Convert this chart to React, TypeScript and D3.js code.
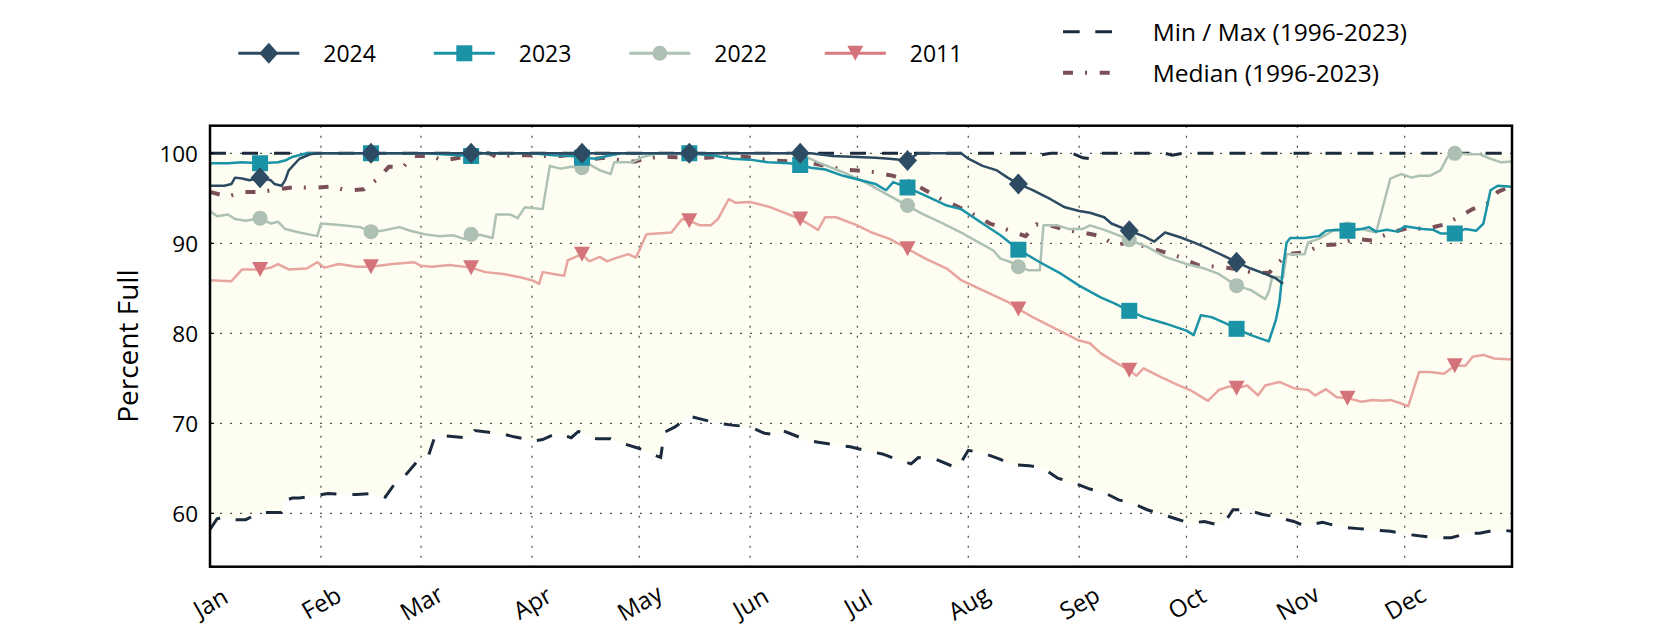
import React from 'react';
import * as d3 from 'd3';

type Pt = [number, number];

// day of year (0 = Jan 1), percent full
const monthLabels = ['Jan', 'Feb', 'Mar', 'Apr', 'May', 'Jun', 'Jul', 'Aug', 'Sep', 'Oct', 'Nov', 'Dec'];
const yTicks = [60, 70, 80, 90, 100];
const markerDays = [14, 45, 73, 104, 134, 165, 195, 226, 257, 287, 318, 348];

const maxSeries: Pt[] = [
  [0, 100], [228, 100], [232, 99.8], [235, 100], [241, 100], [244, 99.5], [246, 99.4], [247, 100],
  [267, 100], [269, 99.8], [272, 100], [364, 100],
];

const minSeries: Pt[] = [
  [0, 58.2], [2, 59.4], [4, 59.6], [7, 59.3], [10, 59.3], [14, 60.1], [18, 60.1], [20, 60.1], [21, 61.4],
  [23, 61.7], [25, 61.7], [30, 62.0], [33, 62.2], [37, 62.1], [41, 62.1], [46, 62.2], [49, 61.8], [52, 63.5],
  [55, 64.4], [58, 65.8], [61, 66.3], [63, 68.7], [66, 68.6], [71, 68.4], [73, 68.4], [74, 69.2], [78, 69.0],
  [81, 68.9], [85, 68.5], [89, 68.2], [90, 68.0], [93, 68.2], [97, 68.9], [101, 68.4], [103, 69.1], [108, 68.3],
  [112, 68.3], [116, 67.7], [120, 67.2], [124, 66.5], [126, 66.2], [127, 69.0], [130, 69.6], [134, 70.8],
  [137, 70.5], [142, 70.0], [146, 69.8], [151, 69.6], [155, 68.9], [159, 68.7], [160, 69.2], [162, 68.9],
  [167, 68.1], [170, 67.9], [175, 67.6], [179, 67.4], [184, 66.9], [188, 66.6], [192, 66.0], [196, 65.5],
  [198, 66.2], [203, 66.0], [209, 65.0], [212, 67.0], [216, 66.7], [221, 66.0], [224, 65.4], [229, 65.3],
  [233, 65.0], [237, 63.9], [242, 63.3], [246, 62.7], [250, 62.3], [254, 61.5], [258, 61.1], [262, 60.4],
  [266, 59.9], [270, 59.4], [274, 58.9], [278, 59.1], [282, 58.7], [284, 59.2], [286, 60.4], [290, 60.4],
  [294, 59.9], [298, 59.6], [303, 59.1], [306, 58.6], [311, 59.0], [313, 58.8], [318, 58.4], [321, 58.3],
  [327, 58.1], [330, 58.0], [334, 57.7], [338, 57.5], [343, 57.3], [347, 57.3], [352, 57.8], [355, 57.8],
  [360, 58.2], [364, 58.0],
];

const medianSeries: Pt[] = [
  [0, 95.7], [5, 95.2], [9, 95.7], [14, 95.7], [19, 96.0], [23, 96.2], [30, 96.2], [34, 96.3], [38, 95.9],
  [40, 95.9], [43, 96.0], [47, 97.2], [50, 98.5], [54, 98.5], [57, 99.7], [62, 99.7], [65, 99.2], [71, 99.6],
  [73, 99.6], [75, 100], [78, 100], [80, 99.6], [85, 99.8], [90, 99.8], [94, 99.7], [98, 99.7], [100, 99.8],
  [108, 99.4], [110, 99.5], [117, 99.1], [119, 99.1], [122, 99.5], [128, 99.6], [135, 99.5], [139, 99.5],
  [143, 99.7], [147, 99.6], [150, 99.6], [153, 99.4], [158, 99.2], [167, 99.0], [177, 98.2], [181, 98.1],
  [186, 97.9], [191, 97.5], [196, 96.8], [200, 95.9], [204, 95.0], [210, 93.9], [214, 93.1], [218, 92.2],
  [223, 91.5], [228, 90.8], [231, 92.1], [234, 92.1], [239, 91.5], [244, 91.2], [249, 90.8], [253, 89.8],
  [257, 90.1], [262, 89.6], [267, 89.0], [271, 88.5], [276, 87.6], [281, 87.4], [286, 87.2], [291, 86.8],
  [296, 86.7], [301, 88.8], [306, 89.0], [311, 89.8], [316, 89.9], [320, 90.5], [325, 90.3], [330, 91.2],
  [335, 91.7], [340, 91.6], [345, 92.1], [349, 92.9], [353, 93.8], [357, 94.4], [360, 95.7], [364, 96.4],
];

const series2024: Pt[] = [
  [0, 96.4], [4, 96.4], [6, 96.6], [7, 97.3], [9, 97.2], [11, 97.0], [14, 97.3], [17, 97.0], [18, 96.6],
  [20, 96.4], [21, 97.0], [22, 98.1], [25, 99.4], [28, 99.9], [30, 100], [45, 100], [73, 100], [104, 100],
  [134, 100], [165, 100], [168, 100], [174, 99.7], [181, 99.6], [186, 99.5], [190, 99.4], [195, 99.2],
  [198, 100], [210, 100], [212, 99.4], [216, 98.6], [220, 98.1], [223, 97.3], [226, 96.6], [230, 95.9],
  [235, 94.9], [239, 94.0], [243, 93.6], [246, 93.4], [250, 92.9], [252, 92.2], [257, 91.4], [261, 90.8],
  [264, 90.2], [267, 91.2], [271, 90.7], [275, 90.1], [278, 89.6], [283, 88.7], [287, 87.9], [291, 87.2],
  [295, 86.6], [298, 86.1], [300, 85.5],
];

const series2023: Pt[] = [
  [0, 98.9], [5, 98.9], [9, 99.0], [14, 98.9], [19, 99.0], [21, 99.2], [23, 99.6], [27, 100], [45, 100],
  [60, 100], [73, 99.7], [76, 100], [90, 100], [96, 99.8], [101, 99.7], [104, 99.5], [108, 99.4], [111, 99.7],
  [115, 100], [134, 100], [140, 99.8], [146, 99.4], [151, 99.3], [156, 99.0], [162, 98.9], [165, 98.7],
  [168, 98.4], [172, 98.2], [177, 97.5], [182, 97.0], [186, 96.6], [189, 95.9], [191, 96.8], [195, 96.2],
  [200, 95.3], [206, 94.2], [210, 93.8], [216, 92.2], [221, 90.9], [226, 89.3], [232, 87.9], [238, 86.6],
  [243, 85.3], [249, 84.0], [253, 83.3], [257, 82.5], [261, 81.8], [267, 81.1], [273, 80.3], [275, 79.8],
  [277, 82.0], [280, 81.8], [284, 81.1], [287, 80.5], [291, 79.8], [296, 79.1], [298, 81.5], [299, 83.5],
  [300, 87.4], [301, 90.1], [302, 90.6], [306, 90.6], [310, 90.8], [312, 91.4], [315, 91.5], [318, 91.4],
  [322, 91.6], [324, 91.8], [326, 91.3], [329, 91.5], [332, 91.3], [334, 91.9], [339, 91.6], [342, 91.5],
  [344, 91.1], [348, 91.1], [351, 91.6], [354, 91.4], [356, 92.2], [358, 95.9], [360, 96.4], [364, 96.3],
];

const series2022: Pt[] = [
  [0, 93.6], [2, 93.0], [5, 93.2], [7, 92.7], [10, 92.5], [14, 92.8], [17, 92.2], [19, 92.4], [21, 91.6],
  [25, 91.2], [30, 90.8], [31, 92.2], [37, 92.0], [42, 91.8], [45, 91.3], [48, 91.4], [53, 91.8], [56, 91.4],
  [60, 91.0], [64, 90.8], [68, 90.9], [71, 90.5], [73, 91.0], [76, 90.9], [79, 90.6], [80, 93.2], [84, 93.2],
  [86, 92.8], [88, 94.0], [93, 93.8], [95, 98.6], [98, 98.3], [101, 98.5], [104, 98.4], [106, 98.8],
  [109, 98.1], [112, 97.7], [113, 99.0], [118, 99.0], [121, 99.6], [125, 100], [134, 99.9], [160, 100],
  [165, 99.9], [170, 99.0], [177, 97.9], [184, 96.6], [189, 95.5], [195, 94.2], [199, 93.3], [205, 92.2],
  [210, 91.2], [214, 90.3], [219, 89.2], [221, 88.3], [224, 87.9], [226, 87.4], [229, 87.0], [232, 87.0],
  [233, 92.0], [237, 92.0], [240, 91.6], [244, 91.6], [246, 92.0], [250, 91.5], [254, 90.9], [257, 90.4],
  [262, 89.6], [267, 88.5], [273, 87.7], [278, 87.2], [282, 86.6], [287, 85.3], [291, 84.8], [295, 83.8],
  [296, 84.6], [297, 86.3], [300, 86.2], [301, 88.8], [306, 88.8], [307, 90.1], [310, 90.5], [314, 91.4],
  [318, 91.6], [322, 91.6], [326, 91.2], [330, 97.2], [333, 97.7], [336, 97.3], [338, 97.5], [341, 97.5],
  [344, 98.1], [346, 99.6], [348, 100], [352, 99.9], [355, 99.9], [358, 99.4], [361, 99.0], [364, 99.1],
];

const series2011: Pt[] = [
  [0, 85.9], [6, 85.8], [9, 87.1], [14, 87.1], [17, 87.3], [19, 87.7], [22, 87.1], [27, 87.2], [30, 87.9],
  [32, 87.3], [36, 87.7], [41, 87.4], [45, 87.4], [51, 87.7], [57, 87.9], [59, 87.5], [62, 87.4], [67, 87.6],
  [73, 87.3], [77, 86.8], [82, 86.6], [87, 86.2], [90, 85.9], [92, 85.5], [93, 86.8], [96, 86.6], [99, 86.4],
  [100, 88.1], [104, 88.8], [106, 88.0], [109, 88.5], [111, 88.0], [113, 88.3], [117, 88.8], [119, 88.4],
  [120, 89.2], [122, 91.0], [125, 91.1], [129, 91.2], [132, 92.7], [134, 92.5], [137, 92.0], [140, 92.0],
  [142, 92.7], [145, 94.9], [147, 94.5], [151, 94.6], [156, 94.1], [160, 93.5], [165, 92.7], [170, 91.5],
  [172, 92.9], [175, 92.9], [181, 92.0], [185, 91.2], [190, 90.5], [195, 89.4], [200, 88.3], [206, 87.2],
  [210, 85.9], [217, 84.6], [223, 83.5], [226, 82.7], [230, 81.8], [238, 80.2], [243, 79.2], [246, 78.9],
  [249, 77.8], [253, 76.8], [257, 75.9], [259, 75.3], [261, 76.1], [266, 75.1], [271, 74.2], [274, 73.7],
  [279, 72.5], [282, 73.7], [285, 74.1], [287, 73.9], [290, 74.2], [293, 73.1], [295, 74.2], [299, 74.6],
  [303, 73.9], [307, 73.7], [309, 73.1], [312, 73.8], [315, 72.9], [318, 72.8], [322, 72.4], [325, 72.6],
  [328, 72.5], [330, 72.6], [333, 72.2], [335, 71.9], [338, 75.7], [341, 75.7], [345, 75.5], [348, 76.4],
  [351, 76.4], [353, 77.4], [356, 77.6], [359, 77.2], [364, 77.1],
];

const W = 1680;
const H = 630;
const plot = { left: 210, right: 1512, top: 125.7, bottom: 566.7 };
const FONT = '"Open Sans", "DejaVu Sans", sans-serif';

const base = new Date(2023, 0, 1);
const toDate = (d: number) => d3.timeDay.offset(base, d);

const x = d3.scaleTime().domain([base, new Date(2023, 11, 31)]).range([plot.left, plot.right]);
const y = d3.scaleLinear().domain([54.07, 103.07]).range([plot.bottom, plot.top]);

const line = d3.line<Pt>().x(p => x(toDate(p[0]))).y(p => y(p[1]));

const shapes: Record<string, string> = {
  diamond: 'M0,-10.5L9.5,0L0,10.5L-9.5,0Z',
  square: 'M-8,-8H8V8H-8Z',
  circle: d3.symbol().type(d3.symbolCircle).size(Math.PI * 7.5 * 7.5)() as string,
  triDown: 'M-8,-7.5H8L0,7.5Z',
};

interface YearSeries {
  label: string;
  data: Pt[];
  line: string;
  marker: string;
  legendLine: string;
  shape: string;
}

const years: YearSeries[] = [
  { label: '2024', data: series2024, line: '#2c4a62', marker: '#2d4b63', legendLine: '#2c4a62', shape: 'diamond' },
  { label: '2023', data: series2023, line: '#1a93a6', marker: '#1b93a6', legendLine: '#1a93a6', shape: 'square' },
  { label: '2022', data: series2022, line: '#aec1b5', marker: '#aebfb3', legendLine: '#aec1b5', shape: 'circle' },
  { label: '2011', data: series2011, line: '#e8a59e', marker: '#d5737a', legendLine: '#d87a7e', shape: 'triDown' },
];

const MINMAX_DASH = '16,16';
const MEDIAN_DASH = '10,12,2,12.7';

const App: React.FC = () => {
  const months = d3.timeMonth.range(base, new Date(2024, 0, 1));

  // band between min and max
  const bandPts: [number, number][] = [
    ...maxSeries.map(p => [x(toDate(p[0])), y(p[1])] as [number, number]),
    ...minSeries.slice().reverse().map(p => [x(toDate(p[0])), y(p[1])] as [number, number]),
  ];
  const bandPath = 'M' + bandPts.map(p => p.join(',')).join('L') + 'Z';

  const drawOrder = years.slice().reverse(); // 2011 at bottom, 2024 on top

  return (
    <svg width={W} height={H} style={{ position: 'absolute', left: 0, top: 0, background: '#fff' }}
      fontFamily={FONT}>
      <defs>
        <clipPath id="plotClip">
          <rect x={plot.left} y={plot.top} width={plot.right - plot.left} height={plot.bottom - plot.top} />
        </clipPath>
      </defs>

      <g clipPath="url(#plotClip)">
        <path d={bandPath} fill="#fdfdf2" stroke="none" />

        {/* grid */}
        {yTicks.map(t => (
          <line key={'gy' + t} x1={plot.left} x2={plot.right} y1={y(t)} y2={y(t)}
            stroke="#555" strokeWidth={1.3} strokeDasharray="2,8" />
        ))}
        {months.slice(1).map((m, i) => (
          <line key={'gx' + i} x1={x(m)} x2={x(m)} y1={plot.top} y2={plot.bottom}
            stroke="#555" strokeWidth={1.3} strokeDasharray="2,8" />
        ))}

        <path d={line(maxSeries) as string} fill="none" stroke="#1b2b3d" strokeWidth={3}
          strokeDasharray={MINMAX_DASH} />
        <path d={line(minSeries) as string} fill="none" stroke="#1b2b3d" strokeWidth={3}
          strokeDasharray={MINMAX_DASH} />
        <path d={line(medianSeries) as string} fill="none" stroke="#7b4f58" strokeWidth={4}
          strokeDasharray={MEDIAN_DASH} />

        {drawOrder.map(s => (
          <g key={s.label}>
            <path d={line(s.data) as string} fill="none" stroke={s.line} strokeWidth={2.5}
              strokeLinejoin="round" />
            {s.data.filter(p => markerDays.includes(p[0])).map(p => (
              <path key={p[0]} d={shapes[s.shape]} fill={s.marker}
                transform={`translate(${x(toDate(p[0]))},${y(p[1])})`} />
            ))}
          </g>
        ))}
      </g>

      {/* frame */}
      <rect x={plot.left} y={plot.top} width={plot.right - plot.left} height={plot.bottom - plot.top}
        fill="none" stroke="#000" strokeWidth={2.5} />

      {/* y axis */}
      {yTicks.map(t => (
        <g key={'yt' + t}>
          <line x1={plot.left} x2={plot.left + 4} y1={y(t)} y2={y(t)} stroke="#000" strokeWidth={1.2} />
          <text x={198} y={y(t)} textAnchor="end" dominantBaseline="central" fontSize={22.5} fill="#000">{t}</text>
        </g>
      ))}
      <text transform={`translate(127,${(plot.top + plot.bottom) / 2}) rotate(-90)`} textAnchor="middle"
        dominantBaseline="central" fontSize={28} fill="#000">Percent Full</text>

      {/* x axis */}
      {months.map((m, i) => (
        <text key={'xt' + i} transform={`translate(${x(m)},602) rotate(-30)`} textAnchor="middle"
          dominantBaseline="central" fontSize={24} fill="#000">{monthLabels[i]}</text>
      ))}

      {/* legend */}
      {years.map((s, i) => {
        const x0 = 238.3 + i * 195.5;
        const ly = 53.3;
        return (
          <g key={'lg' + s.label}>
            <line x1={x0} x2={x0 + 61} y1={ly} y2={ly} stroke={s.legendLine} strokeWidth={3} />
            <path d={shapes[s.shape]} fill={s.marker} transform={`translate(${x0 + 30.5},${ly})`} />
            <text x={x0 + 85} y={ly} dominantBaseline="central" fontSize={23} fill="#000">{s.label}</text>
          </g>
        );
      })}
      <line x1={1063} x2={1112} y1={31.7} y2={31.7} stroke="#1b2b3d" strokeWidth={3} strokeDasharray="16.7,15.6" />
      <text x={1152.7} y={31.7} dominantBaseline="central" fontSize={24.5} fill="#000">Min / Max (1996-2023)</text>
      <line x1={1063} x2={1112} y1={72.7} y2={72.7} stroke="#7b4f58" strokeWidth={4} strokeDasharray={MEDIAN_DASH} />
      <text x={1152.7} y={72.7} dominantBaseline="central" fontSize={24.5} fill="#000">Median (1996-2023)</text>
    </svg>
  );
};

export default App;
